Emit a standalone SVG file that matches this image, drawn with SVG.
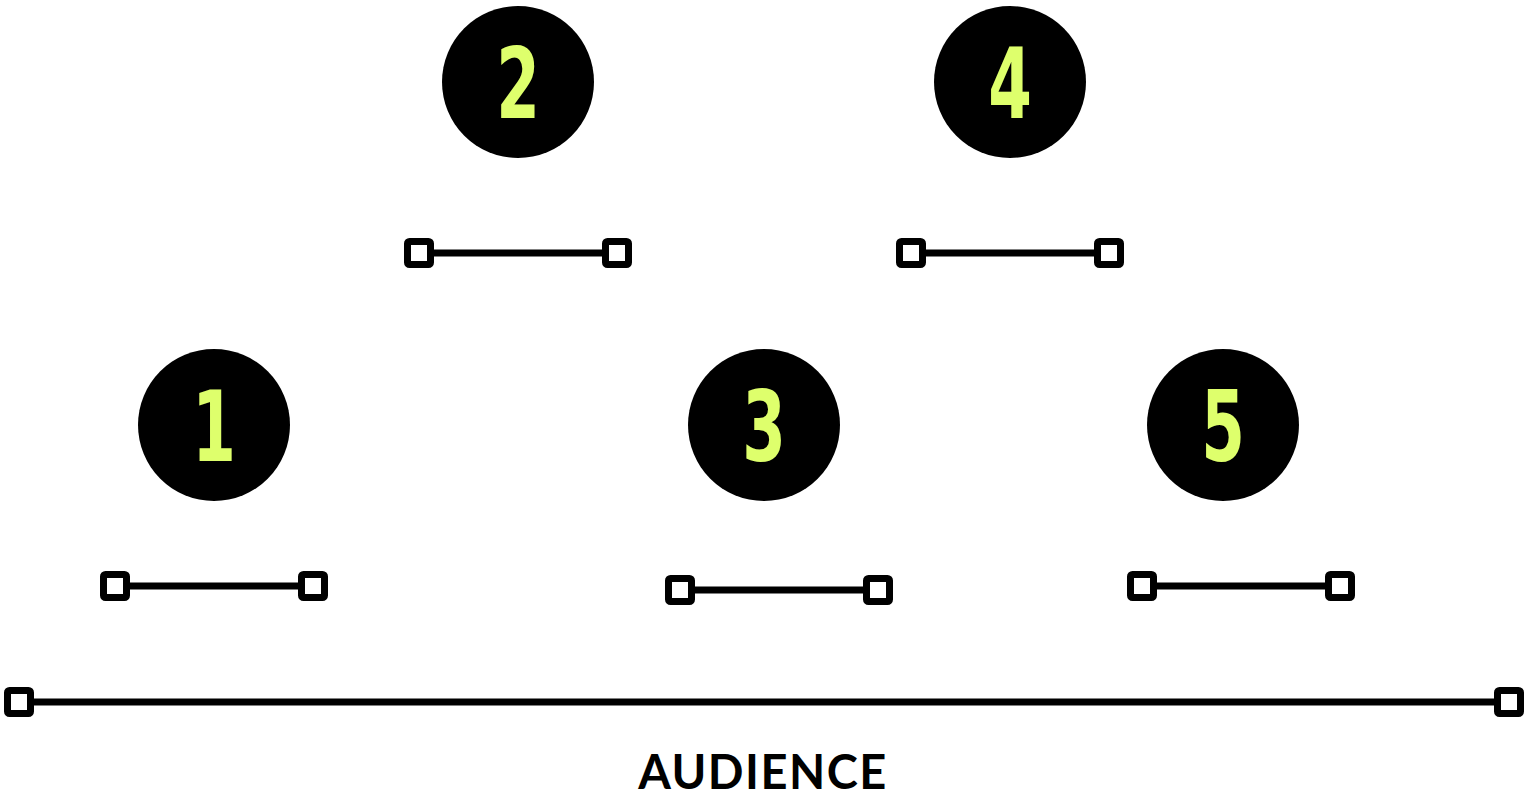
<svg xmlns="http://www.w3.org/2000/svg" width="1534" height="804" viewBox="0 0 1534 804">
  <style>
    .disc { fill: #000; }
    .num { fill: #DEFF6C; font-family: "DejaVu Sans", "Liberation Sans", sans-serif; font-weight: bold; font-size: 98px; text-anchor: middle; }
    .bar { stroke: #000; stroke-width: 7; fill: none; }
    .cap { fill: #fff; stroke: #000; stroke-width: 7; }
    .label { fill: #000; font-family: Lato, "Liberation Sans", sans-serif; font-weight: bold; font-size: 47px; text-anchor: middle; letter-spacing: 1.5px; }
  </style>
  <defs>
    <rect id="endcap" class="cap" x="-11.5" y="-11.5" width="23" height="23" rx="2"/>
  </defs>

  <!-- numbered positions; digits are narrowed horizontally -->
  <g id="node-1"><circle class="disc" cx="214" cy="425" r="76"/><text class="num" transform="translate(214 461) scale(0.64 1)">1</text></g>
  <g id="node-2"><circle class="disc" cx="518" cy="82" r="76"/><text class="num" transform="translate(518 118) scale(0.64 1)">2</text></g>
  <g id="node-3"><circle class="disc" cx="764" cy="425" r="76"/><text class="num" transform="translate(764 461) scale(0.64 1)">3</text></g>
  <g id="node-4"><circle class="disc" cx="1010" cy="82" r="76"/><text class="num" transform="translate(1010 118) scale(0.64 1)">4</text></g>
  <g id="node-5"><circle class="disc" cx="1223" cy="425" r="76"/><text class="num" transform="translate(1223 461) scale(0.64 1)">5</text></g>

  <!-- span bars with square end caps -->
  <g id="connectors">
    <g id="bar-2"><line class="bar" x1="419" y1="253" x2="617" y2="253"/><use href="#endcap" x="419" y="253"/><use href="#endcap" x="617" y="253"/></g>
    <g id="bar-4"><line class="bar" x1="911" y1="253" x2="1109" y2="253"/><use href="#endcap" x="911" y="253"/><use href="#endcap" x="1109" y="253"/></g>
    <g id="bar-1"><line class="bar" x1="115" y1="586" x2="313" y2="586"/><use href="#endcap" x="115" y="586"/><use href="#endcap" x="313" y="586"/></g>
    <g id="bar-3"><line class="bar" x1="680" y1="590" x2="878" y2="590"/><use href="#endcap" x="680" y="590"/><use href="#endcap" x="878" y="590"/></g>
    <g id="bar-5"><line class="bar" x1="1142" y1="586" x2="1340" y2="586"/><use href="#endcap" x="1142" y="586"/><use href="#endcap" x="1340" y="586"/></g>
    <g id="bar-audience"><line class="bar" x1="19" y1="702" x2="1509" y2="702"/><use href="#endcap" x="19" y="702"/><use href="#endcap" x="1509" y="702"/></g>
  </g>

  <text class="label" x="763" y="789">AUDIENCE</text>
</svg>
